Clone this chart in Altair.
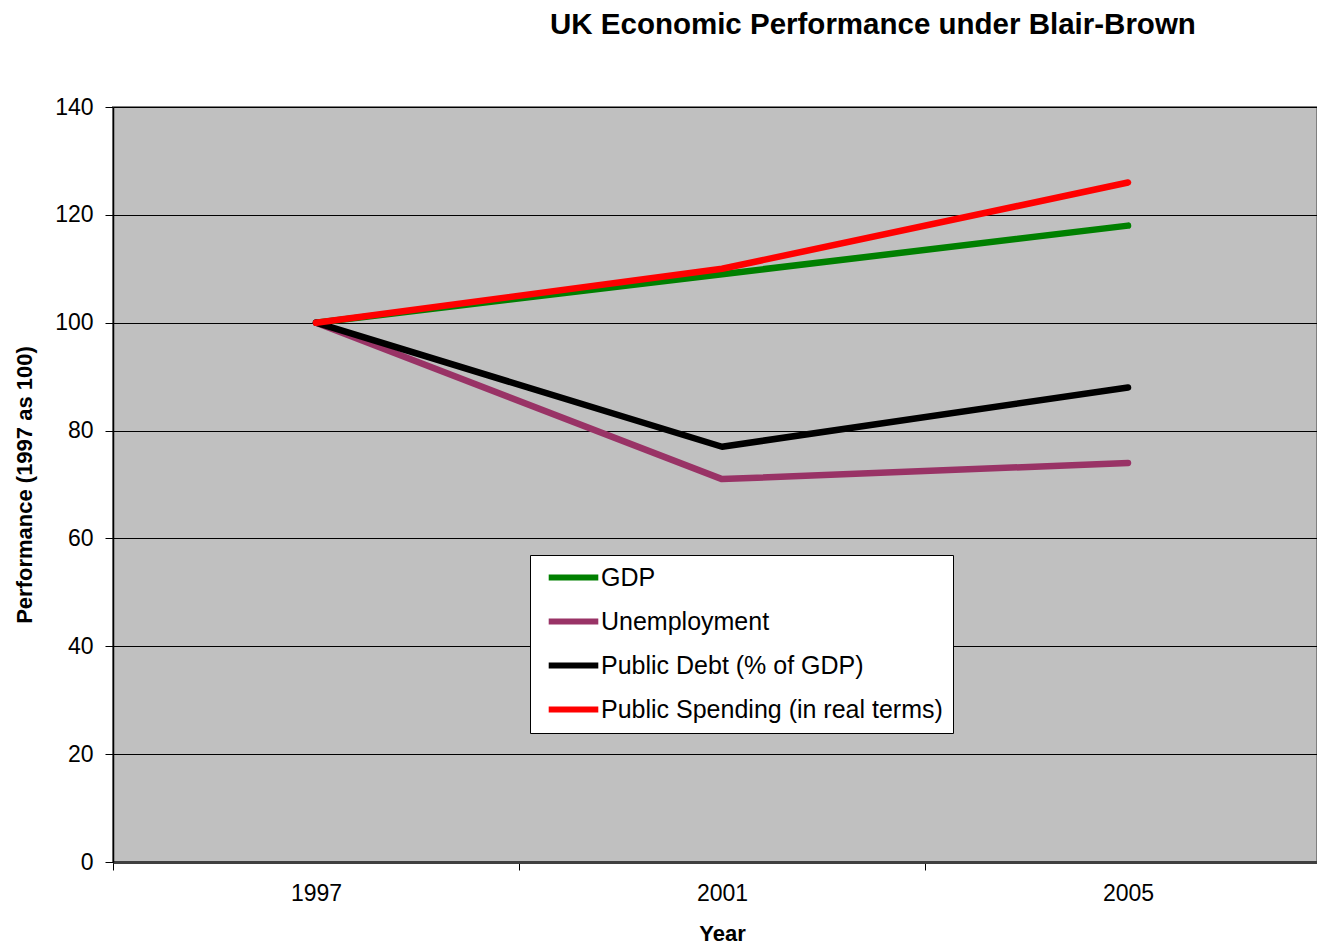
import altair as alt
import pandas as pd

years = [1997, 2001, 2005]
series_names = ["GDP", "Unemployment", "Public Debt (% of GDP)", "Public Spending (in real terms)"]
gdp = [100, 109, 118]
unemployment = [100, 71, 74]
public_debt = [100, 77, 88]
public_spending = [100, 110, 126]
series_colors = ["#008000", "#993366", "#000000", "#FF0000"]
x_tick_bounds = [1995, 1999, 2003]
y_ticks = [0, 20, 40, 60, 80, 100, 120, 140]

rows = []
for name, vals in zip(series_names, [gdp, unemployment, public_debt, public_spending]):
    for yr, v in zip(years, vals):
        rows.append({"Year": yr, "Value": v, "Series": name})
df = pd.DataFrame(rows)

FONT = "Liberation Sans"

chart = alt.Chart(df).mark_line(strokeWidth=6.5, strokeCap="round", strokeJoin="round").encode(
    x=alt.X("Year:Q",
            scale=alt.Scale(domain=[1995, 2006.862], nice=False, zero=False),
            axis=alt.Axis(values=x_tick_bounds, labelExpr="'' + (datum.value + 2)",
                          labelOffset=203, labelFlush=False, labelOverlap=False,
                          grid=False, tickSize=8, tickColor="black", tickWidth=1,
                          domainColor="#404040", domainWidth=3,
                          labelFontSize=23, labelFont=FONT, labelColor="black", labelPadding=12,
                          title="Year", titleFontSize=22, titleFont=FONT, titleFontWeight="bold",
                          titleColor="black", titleX=609, titleY=71, titleBaseline="middle")),
    y=alt.Y("Value:Q",
            scale=alt.Scale(domain=[0, 140], nice=False),
            axis=alt.Axis(values=y_ticks, grid=True, gridColor="black", gridWidth=1, gridOpacity=1,
                          tickSize=8, tickColor="black", tickWidth=1,
                          domainColor="black", domainWidth=1.5,
                          labelFontSize=23, labelFont=FONT, labelColor="black", labelPadding=12,
                          title="Performance (1997 as 100)", titleFontSize=22, titleFont=FONT,
                          titleFontWeight="bold", titleColor="black", titleX=-89,
                          titleBaseline="middle")),
    color=alt.Color("Series:N",
                    scale=alt.Scale(domain=series_names, range=series_colors),
                    legend=alt.Legend(title=None, orient="none", legendX=417, legendY=448,
                                      fillColor="white", strokeColor="black",
                                      padding=10, labelFontSize=25, labelFont=FONT,
                                      labelColor="black",
                                      symbolType="M-3.1,0H3.1", symbolSize=256,
                                      symbolStrokeWidth=6, symbolOffset=21, labelOffset=15,
                                      rowPadding=18, labelLimit=500)),
).properties(
    width=1204,
    height=755,
    background="white",
    title=alt.TitleParams("UK Economic Performance under Blair-Brown", anchor="start", dx=437,
                          fontSize=29.5, font=FONT, fontWeight="bold", color="black",
                          baseline="alphabetic", offset=33, frame="group"),
    autosize=alt.AutoSizeParams(type="none"),
    padding={"left": 113, "top": 107, "right": 0, "bottom": 83},
).configure_view(
    fill="#C0C0C0", stroke="#808080", strokeWidth=2
).configure_legend(
    strokeWidth=1
)

chart.save("out.html", embed_options={"renderer": "svg", "actions": False})
